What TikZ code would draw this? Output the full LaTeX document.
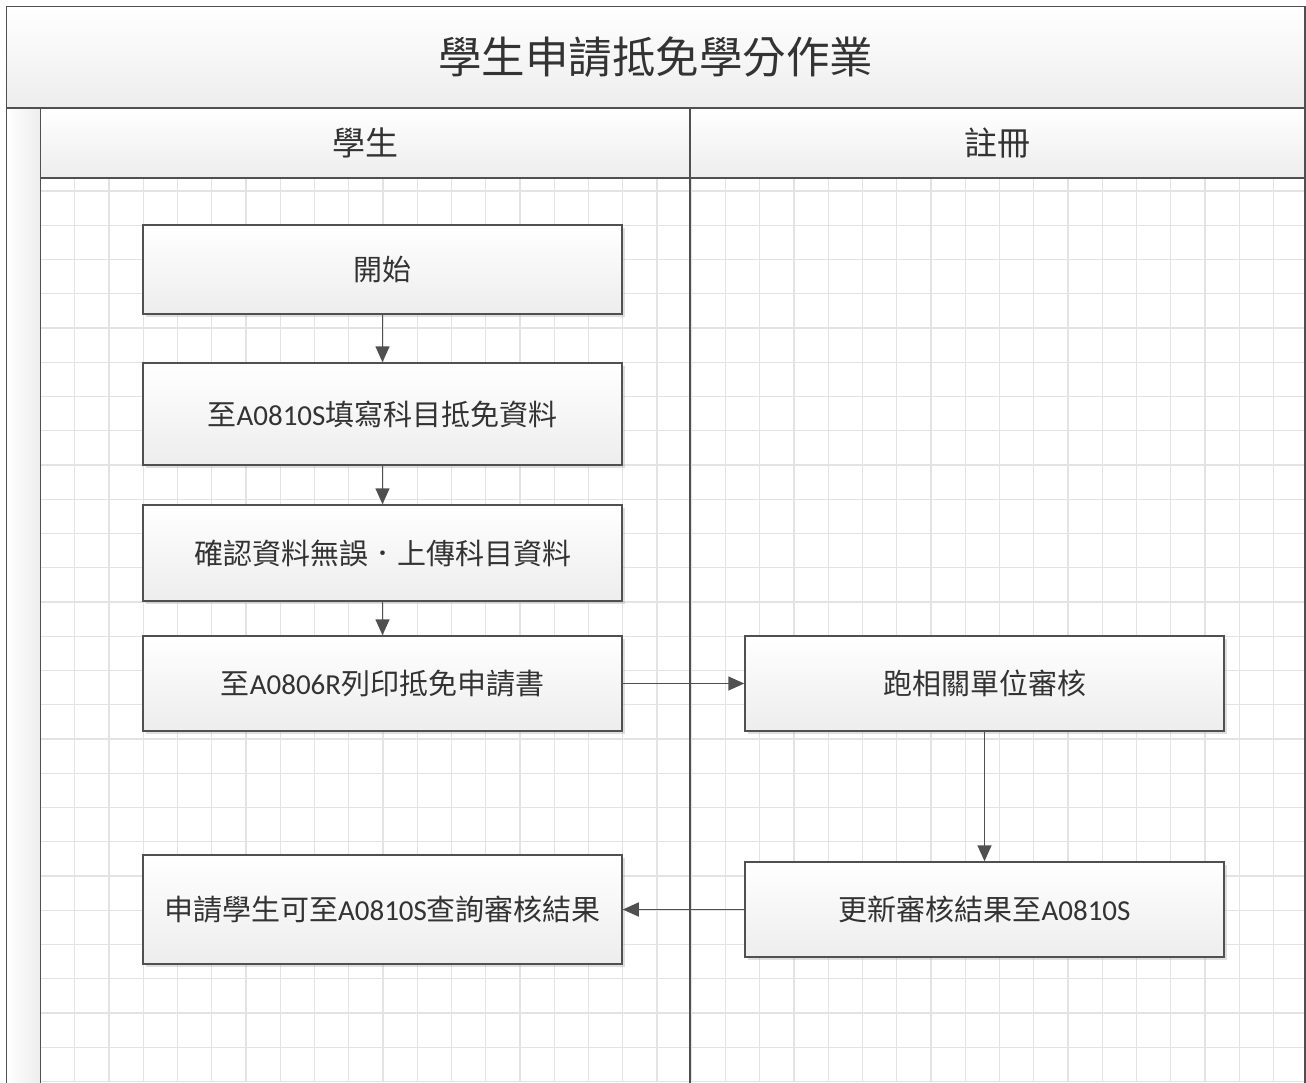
\documentclass[tikz,border=0pt]{standalone}
\usepackage{fontspec}
\setmainfont{Noto Sans CJK TC}
\newfontfamily\latfont{Carlito}
\usetikzlibrary{arrows.meta,shadows}
\definecolor{edge}{HTML}{505050}
\definecolor{txt}{HTML}{333333}
\definecolor{gridc}{HTML}{E3E3E3}
\definecolor{shadec}{HTML}{EDEDED}
\newcommand\ltn[1]{{\latfont #1}}
\tikzset{
  frameline/.style={draw=edge, line width=1.5pt},
  gridline/.style={draw=gridc, line width=1.2pt},
  headbar/.style={frameline, top color=white, bottom color=shadec},
  proc/.style={draw=edge, line width=1.5pt, top color=white, bottom color=shadec,
    minimum width=479pt, inner sep=0pt, text=txt,
    font=\fontsize{29}{34}\selectfont,
    drop shadow={shadow xshift=2.5pt, shadow yshift=-2.5pt, fill=black!35, opacity=0.35}},
  arr/.style={draw=edge, line width=1.6pt, -{Triangle[length=16pt,width=14pt]}},
  headtext/.style={text=txt, font=\fontsize{33}{39}\selectfont},
}
\begin{document}
\begin{tikzpicture}[x=1pt,y=-1pt]
\useasboundingbox (0,0) rectangle (1306,1082);
\fill[white] (0,0) rectangle (1306,1082);
% grid
\begin{scope}
\clip (40.5,178) rectangle (1305,1082);
\foreach \i in {1,...,36} \draw[gridline] ({40.5+\i*34.25},178) -- ({40.5+\i*34.25},1082);
\foreach \j in {0,...,26} \draw[gridline] (40.5,{191+\j*34.25}) -- (1305,{191+\j*34.25});
\end{scope}
% title bar and lanes
\path[headbar] (6.5,6.5) rectangle (1305,108);
\path[frameline, left color=white, right color=shadec] (6.5,108) rectangle (40.5,1090);
\path[headbar] (40.5,108) rectangle (690,178);
\path[headbar] (690,108) rectangle (1305,178);
\draw[frameline] (690,178) -- (690,1090);
\draw[frameline] (1305,178) -- (1305,1090);
\node[text=txt, font=\fontsize{43.5}{50}\selectfont] (title) at (655.5,57) {學生申請抵免學分作業};
\node[headtext] (laneA) at (365,143) {學生};
\node[headtext] (laneB) at (997.5,143) {註冊};
% process boxes
\node[proc, minimum height=89pt] (s1) at (382.5,269.5) {開始};
\node[proc, minimum height=102pt] (s2) at (382.5,414) {至\ltn{A0810S}填寫科目抵免資料};
\node[proc, minimum height=96pt] (s3) at (382.5,553) {確認資料無誤．上傳科目資料};
\node[proc, minimum height=95pt] (s4) at (382.5,683.5) {至\ltn{A0806R}列印抵免申請書};
\node[proc, minimum height=95pt] (r1) at (984.5,683.5) {跑相關單位審核};
\node[proc, minimum height=95pt] (r2) at (984.5,909.5) {更新審核結果至\ltn{A0810S}};
\node[proc, minimum height=109pt] (s5) at (382.5,909.5) {申請學生可至\ltn{A0810S}查詢審核結果};
% connectors
\draw[arr] (s1) -- (s2);
\draw[arr] (s2) -- (s3);
\draw[arr] (s3) -- (s4);
\draw[arr] (s4) -- (r1);
\draw[arr] (r1) -- (r2);
\draw[arr] (r2) -- (s5);
\end{tikzpicture}
\end{document}
